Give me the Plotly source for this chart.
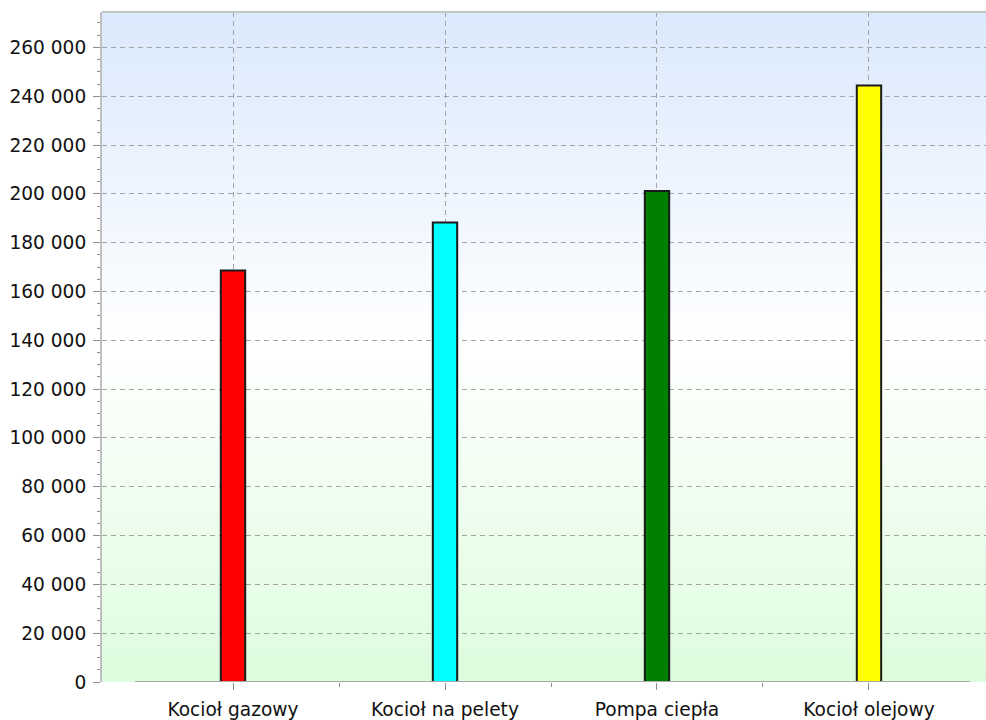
import plotly.graph_objects as go

categories = ["Kocioł gazowy", "Kocioł na pelety", "Pompa ciepła", "Kocioł olejowy"]
values = [168600, 188300, 201200, 244400]
bar_colors = ["#ff0000", "#00ffff", "#008000", "#ffff00"]
y_max = 274500
y_step = 20000
y_minor_step = 5000

x_pos = list(range(len(categories)))

fig = go.Figure()
fig.add_trace(go.Bar(
    x=x_pos, y=values, width=0.115,
    marker=dict(color=bar_colors, line=dict(color="#1a1a1a", width=2)),
    hoverinfo="skip",
))

# background gradient (blue top -> white middle -> green bottom)
top = (218, 233, 252)
mid = (255, 255, 255)
bot = (221, 252, 221)
n = 140
shapes = []
for i in range(n):
    f0 = i / n
    f1 = (i + 1) / n
    c = (f0 + f1) / 2  # 0 bottom, 1 top
    if c >= 0.5:
        t = (c - 0.5) / 0.5
        col = tuple(round(mid[k] + (top[k] - mid[k]) * t) for k in range(3))
    else:
        t = (0.5 - c) / 0.5
        col = tuple(round(mid[k] + (bot[k] - mid[k]) * t) for k in range(3))
    shapes.append(dict(type="rect", xref="paper", yref="paper", x0=0, x1=1,
                       y0=f0, y1=f1 + 0.002, fillcolor="rgb(%d,%d,%d)" % col,
                       line=dict(width=0), layer="below"))
# top border
shapes.append(dict(type="line", xref="paper", yref="paper", x0=0, x1=1, y0=1, y1=1,
                   line=dict(color="#c6c6c6", width=2), layer="above"))
# bottom axis line (partial)
shapes.append(dict(type="line", xref="paper", yref="y", x0=0.0373, x1=0.982, y0=0, y1=0,
                   line=dict(color="#a8a8a8", width=2), layer="above"))

grid_col = "#a4a4a4"
fig.update_layout(
    width=986, height=720,
    margin=dict(l=102, r=0, t=12, b=38),
    paper_bgcolor="white",
    plot_bgcolor="rgba(0,0,0,0)",
    separators=", ",
    showlegend=False,
    shapes=shapes,
    font=dict(family="DejaVu Sans", size=18.6, color="#111111"),
    xaxis=dict(
        range=[-0.618, 3.552],
        tickmode="array", tickvals=x_pos, ticktext=categories,
        showgrid=True, gridcolor=grid_col, gridwidth=1.3, griddash="5px,4px",
        ticks="outside", ticklen=7, tickcolor="#8c8c8c", tickwidth=1.3,
        showline=False, zeroline=False,
        ticklabelstandoff=4,
        minor=dict(tickmode="array", tickvals=[0.5, 1.5, 2.5], ticks="outside",
                   ticklen=4, tickcolor="#8c8c8c", tickwidth=1.3, showgrid=False),
        fixedrange=True,
    ),
    yaxis=dict(
        range=[0, y_max],
        tick0=0, dtick=y_step, tickformat=",d",
        showgrid=True, gridcolor=grid_col, gridwidth=1.3, griddash="5px,4px",
        ticks="outside", ticklen=7, tickcolor="#8c8c8c", tickwidth=1.3,
        showline=True, linecolor="#c0c0c0", linewidth=2,
        zeroline=False,
        ticklabelstandoff=3,
        minor=dict(dtick=y_minor_step, ticks="outside", ticklen=3,
                   tickcolor="#8c8c8c", tickwidth=1.3, showgrid=False),
        fixedrange=True,
    ),
)

fig.write_html("out.html")
